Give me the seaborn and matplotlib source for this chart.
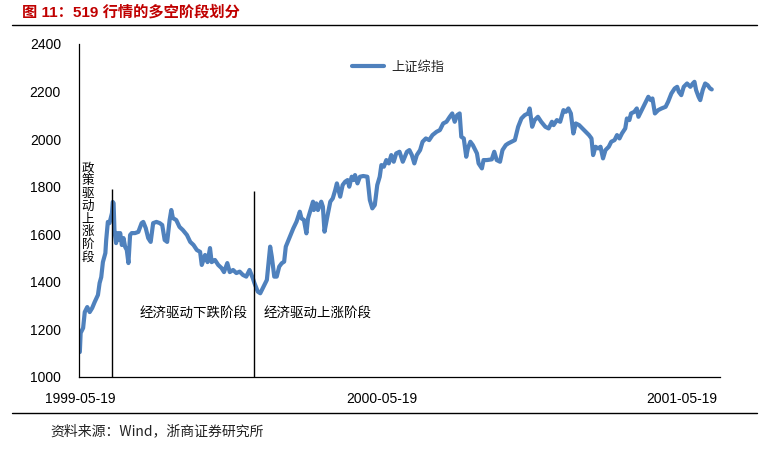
import matplotlib
matplotlib.use("Agg")
import matplotlib.pyplot as plt
from matplotlib.lines import Line2D
import pandas as pd
import seaborn as sns

# ---------------- data ----------------
start_date = "1999-05-19"
day_offsets = [
    0, 1, 4, 6, 9, 12, 15, 18, 22, 24, 26, 28, 31, 32, 34, 36, 39, 40, 41, 42,
    44, 46, 47, 49, 51, 53, 55, 57, 59, 61, 63, 67, 71, 75, 77, 80, 83, 86, 89, 93,
    97, 100, 103, 106, 109, 111, 113, 117, 121, 125, 130, 134, 138, 142, 146, 148, 152, 155, 158, 160,
    164, 168, 172, 175, 179, 182, 186, 190,
    194, 198, 202, 206, 210, 212, 216, 219, 223, 227, 229, 231, 233, 236, 239, 242, 245, 248, 250, 255,
    259, 263, 267, 269, 272, 275, 277, 280, 283, 284, 287, 289, 293, 295, 297, 300, 304, 307, 310, 312,
    316, 319, 322, 325, 327, 330, 332, 334, 337, 340, 344, 349, 352, 355, 358, 361, 364, 366, 369, 372,
    375, 378, 381, 384,
    388, 392, 397, 400, 403, 406, 409, 413, 416, 420, 424, 428, 433, 437, 441, 445, 449, 452, 455, 458,
    461, 463, 466, 469, 471, 474, 477, 482, 484, 488, 490, 494, 500, 503, 506, 510, 513, 517, 520, 524,
    528, 532, 536, 540, 544, 546, 549, 552, 556, 560, 565, 569, 573, 575, 579, 583,
    587, 590, 593, 596, 599, 602, 606, 610, 614, 618, 621, 623, 626, 629, 632, 635, 638, 642, 645, 649,
    652, 655, 658, 662, 664, 667, 669, 673, 676, 678, 682, 686, 690, 693, 695, 698, 702, 706, 711, 714,
    718, 722, 725, 727, 730, 733, 737, 741, 744, 746, 748, 751, 753, 756, 759, 762, 765, 767,
]
index_values = [
    1105, 1185, 1206, 1273, 1294, 1273, 1290, 1315, 1345, 1395, 1420, 1483, 1521, 1576, 1652, 1647, 1689, 1736, 1731, 1618,
    1563, 1605, 1576, 1605, 1555, 1584, 1547, 1534, 1479, 1597, 1605, 1605, 1610, 1647, 1652, 1626, 1584, 1568, 1647, 1652,
    1647, 1639, 1576, 1568, 1660, 1702, 1668, 1660, 1631, 1618, 1597, 1568, 1555, 1534, 1526, 1471, 1513, 1483, 1542, 1483,
    1492, 1471, 1458, 1441, 1479, 1441, 1450, 1437,
    1443, 1429, 1422, 1450, 1415, 1394, 1359, 1352, 1380, 1408, 1478, 1548, 1506, 1422, 1422, 1464, 1478, 1485, 1548, 1590,
    1624, 1653, 1695, 1667, 1660, 1604, 1667, 1702, 1737, 1702, 1730, 1702, 1737, 1716, 1611, 1667, 1737, 1751, 1786, 1814,
    1758, 1807, 1821, 1828, 1800, 1842, 1828, 1849, 1814, 1842, 1845, 1842, 1744, 1709, 1723, 1807, 1842, 1891, 1884, 1912,
    1898, 1933, 1905, 1940,
    1947, 1905, 1947, 1954, 1933, 1898, 1933, 1954, 1989, 2003, 1996, 2017, 2031, 2038, 2066, 2073, 2094, 2108, 2073, 2101,
    2108, 2010, 2003, 1926, 1961, 1989, 1975, 1940, 1898, 1877, 1912, 1912, 1915, 1947, 1912, 1905, 1954, 1975, 1982, 1989,
    1996, 2052, 2087, 2101, 2108, 2129, 2052, 2080, 2094, 2073, 2052, 2045, 2073, 2059, 2080, 2073,
    2122, 2115, 2129, 2108, 2024, 2066, 2059, 2045, 2031, 2017, 2003, 1933, 1968, 1961, 1968, 1919, 1954, 1968, 1989, 1996,
    2017, 2003, 2024, 2045, 2087, 2080, 2108, 2115, 2129, 2094, 2122, 2150, 2178, 2164, 2171, 2108, 2122, 2129, 2136, 2157,
    2192, 2213, 2220, 2199, 2185, 2220, 2234, 2220, 2234, 2241, 2206, 2178, 2164, 2206, 2234, 2227, 2213, 2209,
]
series_name = "上证综指"
phase_boundaries = ["1999-06-27", "1999-12-17"]
phase_line_tops = [1790, 1780]
phase_labels = ["政策驱动上涨阶段", "经济驱动下跌阶段", "经济驱动上涨阶段"]
x_tick_dates = ["1999-05-19", "2000-05-19", "2001-05-19"]
y_ticks = [1000, 1200, 1400, 1600, 1800, 2000, 2200, 2400]
title_text = "图 11：519 行情的多空阶段划分"
source_text = "资料来源：Wind，浙商证券研究所"

# ---------------- style ----------------
sns.set_theme(style="white")
plt.rcParams["font.family"] = ["Liberation Sans", "Noto Sans CJK SC", "DejaVu Sans"]
cjk = ["Noto Sans CJK SC", "DejaVu Sans"]
line_color = "#4F81BD"

W, H = 775, 449
fig = plt.figure(figsize=(W / 100, H / 100), dpi=100)
fig.patch.set_facecolor("white")
ax = fig.add_axes([79 / W, 1 - 377 / H, 641 / W, 333 / H])

df = pd.DataFrame({
    "date": pd.Timestamp(start_date) + pd.to_timedelta(day_offsets, unit="D"),
    "value": index_values,
    "series": series_name,
})
sns.lineplot(data=df, x="date", y="value", hue="series", palette=[line_color],
             linewidth=3, ax=ax, legend=True)
for ln in ax.get_lines():
    ln.set_solid_joinstyle("round")
    ln.set_solid_capstyle("round")

ax.set_xlim(pd.Timestamp("1999-05-18"), pd.Timestamp("2001-07-04"))
ax.set_ylim(y_ticks[0], y_ticks[-1])
ax.set_yticks(y_ticks)
ax.set_yticklabels([str(v) for v in y_ticks])
ax.set_xticks(pd.to_datetime(x_tick_dates))
ax.set_xticklabels(x_tick_dates)
ax.set_xlabel("")
ax.set_ylabel("")

for s in ["top", "right"]:
    ax.spines[s].set_visible(False)
for s in ["left", "bottom"]:
    ax.spines[s].set_color("black")
    ax.spines[s].set_linewidth(0.9)
ax.tick_params(axis="both", direction="out", length=4, width=0.9, color="black",
               labelsize=10, labelcolor="black")
ax.tick_params(axis="y", pad=9)
ax.tick_params(axis="x", pad=6.5)

# phase boundary lines
ax.vlines(pd.to_datetime(phase_boundaries), y_ticks[0], phase_line_tops,
          color="black", linewidth=1, zorder=3)

# phase labels: first one stacked vertically, one character per row
for i, ch in enumerate(phase_labels[0]):
    ax.annotate(ch, xy=(pd.Timestamp("1999-05-29"), 1905), xytext=(0, -i * 9.15),
                textcoords="offset points", ha="center", va="top",
                fontsize=9, family=cjk, color="black")
ax.annotate(phase_labels[1], xy=(pd.Timestamp(phase_boundaries[1]), 1270),
            xytext=(-5, 0), textcoords="offset points", ha="right", va="center",
            fontsize=9.7, family=cjk, color="black")
ax.annotate(phase_labels[2], xy=(pd.Timestamp(phase_boundaries[1]), 1270),
            xytext=(6.5, 0), textcoords="offset points", ha="left", va="center",
            fontsize=9.7, family=cjk, color="black")

# legend
leg = ax.legend(loc="center left", bbox_to_anchor=((352 - 79) / 641, (377 - 67) / 333),
                frameon=False, borderpad=0, borderaxespad=0, handlelength=2.4,
                handletextpad=0.6, prop={"family": cjk, "size": 9.5})

# title, rules, source
fig.text(22 / W, 1 - 12 / H, title_text, color="#C00000", fontsize=11, fontweight="bold",
         va="center", ha="left")
fig.add_artist(Line2D([12 / W, 757 / W], [1 - 25 / H, 1 - 25 / H], color="black", linewidth=1))
fig.add_artist(Line2D([12 / W, 757 / W], [1 - 413 / H, 1 - 413 / H], color="black", linewidth=1))
fig.text(50 / W, 1 - 431 / H, source_text, color="#222222", fontsize=10, va="center", ha="left",
         family=cjk)

fig.savefig("out.png", dpi=100, facecolor="white")
